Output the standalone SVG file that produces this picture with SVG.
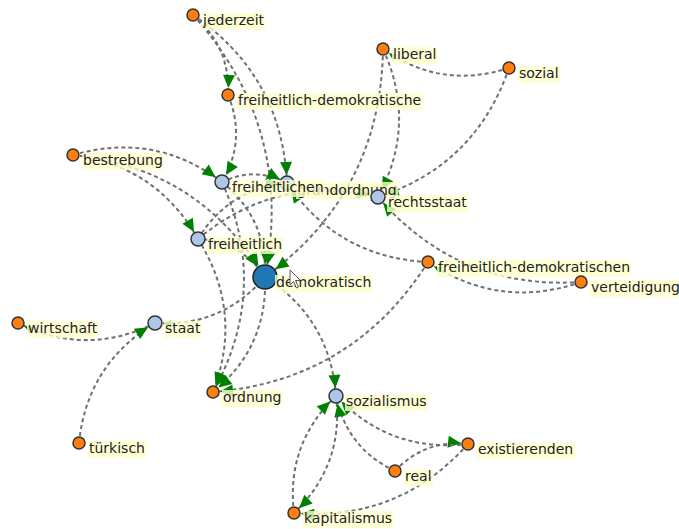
<svg xmlns="http://www.w3.org/2000/svg" width="679" height="529" viewBox="0 0 679 529">
<style>
.e{fill:none;stroke:#707070;stroke-width:2;stroke-dasharray:4 3}
.o{fill:#ff7f0e;stroke:#333;stroke-width:1.5}
.b{fill:#aec7e8;stroke:#333;stroke-width:1.5}
.d{fill:#1f77b4;stroke:#222;stroke-width:1.5}
.lb{fill:#ffffcc;fill-opacity:0.8}
text{font-family:"DejaVu Sans","Noto Sans",sans-serif;font-size:14px;fill:#222}
.ah{fill:#008000}
</style>
<defs>
<marker id="m6" viewBox="-30 -10 30 20" markerWidth="30" markerHeight="20" refX="0" refY="0" orient="auto" markerUnits="userSpaceOnUse"><path class="ah" d="M-7,0 L-20,-6 L-20,6 Z"/></marker>
<marker id="m7" viewBox="-30 -10 30 20" markerWidth="30" markerHeight="20" refX="0" refY="0" orient="auto" markerUnits="userSpaceOnUse"><path class="ah" d="M-8,0 L-21,-6 L-21,6 Z"/></marker>
<marker id="m13" viewBox="-30 -10 30 20" markerWidth="30" markerHeight="20" refX="0" refY="0" orient="auto" markerUnits="userSpaceOnUse"><path class="ah" d="M-13,0 L-26,-6 L-26,6 Z"/></marker>
<marker id="s6" viewBox="-30 -10 30 20" markerWidth="30" markerHeight="20" refX="0" refY="0" orient="auto" markerUnits="userSpaceOnUse"><path class="ah" d="M-7,0 L-15,-3.5 L-15,3.5 Z"/></marker>
<marker id="s7" viewBox="-30 -10 30 20" markerWidth="30" markerHeight="20" refX="0" refY="0" orient="auto" markerUnits="userSpaceOnUse"><path class="ah" d="M-8,0 L-16,-3.5 L-16,3.5 Z"/></marker>
</defs>
<rect width="679" height="529" fill="#ffffff"/>
<g id="edges">
<path class="e" d="M193,15 Q230.5,46.25 228,95" marker-end="url(#m6)"/>
<path class="e" d="M193,15 Q282,75.5 287,183" marker-end="url(#m7)"/>
<path class="e" d="M193,15 Q294.5,128 265,277" marker-end="url(#m13)"/>
<path class="e" d="M228,95 Q246.75,140 222,182" marker-end="url(#m7)"/>
<path class="e" d="M73,155 Q154.25,131.25 222,182" marker-end="url(#m7)"/>
<path class="e" d="M73,155 Q156.5,165.75 198,239" marker-end="url(#m7)"/>
<path class="e" d="M73,155 Q199.5,168 265,277" marker-end="url(#m13)"/>
<path class="e" d="M222,182 Q254.75,166.25 287,183" marker-end="url(#m7)"/>
<path class="e" d="M222,182 Q267.25,218.75 265,277" marker-end="url(#m13)"/>
<path class="e" d="M222,182 Q270,289.25 213,392" marker-end="url(#m6)"/>
<path class="e" d="M198,239 Q228.5,188.75 287,183" marker-end="url(#m7)"/>
<path class="e" d="M198,239 Q277.5,173 378,197" marker-end="url(#m7)"/>
<path class="e" d="M198,239 Q241,241.25 265,277" marker-end="url(#m13)"/>
<path class="e" d="M198,239 Q243.75,311.75 213,392" marker-end="url(#m6)"/>
<path class="e" d="M383,49 Q417.5,124.25 378,197" marker-end="url(#m7)"/>
<path class="e" d="M383,49 Q381,192.5 265,277" marker-end="url(#m13)"/>
<path class="e" d="M509,68 Q441.25,90 383,49" marker-end="url(#s6)"/>
<path class="e" d="M509,68 Q475.75,165.25 378,197" marker-end="url(#m7)"/>
<path class="e" d="M428,262 Q337.75,257.75 287,183" marker-end="url(#m7)"/>
<path class="e" d="M428,262 Q353,380.75 213,392" marker-end="url(#m6)"/>
<path class="e" d="M581,282 Q499.5,310.25 428,262" marker-end="url(#s6)"/>
<path class="e" d="M581,282 Q458.25,290.25 378,197" marker-end="url(#m7)"/>
<path class="e" d="M265,277 Q330.25,318.75 336,396" marker-end="url(#m7)"/>
<path class="e" d="M265,277 Q221.5,327.5 155,323" marker-end="url(#s7)"/>
<path class="e" d="M265,277 Q267.75,347.5 213,392" marker-end="url(#m6)"/>
<path class="e" d="M155,323 Q86.5,357.25 18,323" marker-end="url(#s6)"/>
<path class="e" d="M79,443 Q87,364 155,323" marker-end="url(#m7)"/>
<path class="e" d="M336,396 Q344.25,465 294,513" marker-end="url(#m6)"/>
<path class="e" d="M294,513 Q285.75,444 336,396" marker-end="url(#m7)"/>
<path class="e" d="M395,471 Q346.75,448.25 336,396" marker-end="url(#m7)"/>
<path class="e" d="M395,471 Q424.75,439.25 468,444" marker-end="url(#m6)"/>
<path class="e" d="M468,444 Q390,453 336,396" marker-end="url(#m7)"/>
<path class="e" d="M468,444 Q398.25,522 294,513" marker-end="url(#m6)"/>
</g>
<g id="n-grundordnung"><circle class="b" cx="287" cy="183" r="7"/><rect class="lb" x="296" y="182" width="102" height="17"/><text x="297" y="195">grundordnung</text></g>
<g id="n-jederzeit"><circle class="o" cx="193" cy="15" r="6"/><rect class="lb" x="202" y="13" width="63" height="17"/><text x="203" y="25">jederzeit</text></g>
<g id="n-freiheitlich-demokratische"><circle class="o" cx="228" cy="95" r="6"/><rect class="lb" x="237" y="93" width="186" height="17"/><text x="238" y="105">freiheitlich-demokratische</text></g>
<g id="n-liberal"><circle class="o" cx="383" cy="49" r="6"/><rect class="lb" x="392" y="47" width="46" height="17"/><text x="393" y="59">liberal</text></g>
<g id="n-sozial"><circle class="o" cx="509" cy="68" r="6"/><rect class="lb" x="518" y="66" width="42" height="17"/><text x="519" y="78">sozial</text></g>
<g id="n-bestrebung"><circle class="o" cx="73" cy="155" r="6"/><rect class="lb" x="82" y="153" width="82" height="17"/><text x="83" y="165">bestrebung</text></g>
<g id="n-freiheitlichen"><circle class="b" cx="222" cy="182" r="7"/><rect class="lb" x="231" y="180" width="94" height="17"/><text x="232" y="192">freiheitlichen</text></g>
<g id="n-rechtsstaat"><circle class="b" cx="378" cy="197" r="7"/><rect class="lb" x="387" y="195" width="81" height="17"/><text x="388" y="207">rechtsstaat</text></g>
<g id="n-freiheitlich"><circle class="b" cx="198" cy="239" r="7"/><rect class="lb" x="207" y="237" width="76" height="17"/><text x="208" y="249">freiheitlich</text></g>
<g id="n-demokratisch"><circle class="d" cx="265" cy="277" r="12"/><rect class="lb" x="275" y="275" width="97" height="17"/><text x="276" y="287">demokratisch</text></g>
<g id="n-freiheitlich-demokratischen"><circle class="o" cx="428" cy="262" r="6"/><rect class="lb" x="437" y="260" width="194" height="17"/><text x="438" y="272">freiheitlich-demokratischen</text></g>
<g id="n-verteidigung"><circle class="o" cx="581" cy="282" r="6"/><rect class="lb" x="590" y="280" width="91" height="17"/><text x="591" y="292">verteidigung</text></g>
<g id="n-wirtschaft"><circle class="o" cx="18" cy="323" r="6"/><rect class="lb" x="27" y="321" width="71" height="17"/><text x="28" y="333">wirtschaft</text></g>
<g id="n-staat"><circle class="b" cx="155" cy="323" r="7"/><rect class="lb" x="164" y="321" width="37" height="17"/><text x="165" y="333">staat</text></g>
<g id="n-tuerkisch"><circle class="o" cx="79" cy="443" r="6"/><rect class="lb" x="88" y="441" width="58" height="17"/><text x="89" y="453">türkisch</text></g>
<g id="n-ordnung"><circle class="o" cx="213" cy="392" r="6"/><rect class="lb" x="222" y="390" width="61" height="17"/><text x="223" y="402">ordnung</text></g>
<g id="n-sozialismus"><circle class="b" cx="336" cy="396" r="7"/><rect class="lb" x="345" y="394" width="83" height="17"/><text x="346" y="406">sozialismus</text></g>
<g id="n-existierenden"><circle class="o" cx="468" cy="444" r="6"/><rect class="lb" x="477" y="442" width="98" height="17"/><text x="478" y="454">existierenden</text></g>
<g id="n-real"><circle class="o" cx="395" cy="471" r="6"/><rect class="lb" x="404" y="469" width="29" height="17"/><text x="405" y="481">real</text></g>
<g id="n-kapitalismus"><circle class="o" cx="294" cy="513" r="6"/><rect class="lb" x="303" y="511" width="91" height="17"/><text x="304" y="523">kapitalismus</text></g>
<path d="M290,270 L290,285 L293.5,281.5 L296.5,288 L298.5,287 L295.5,280.5 L300.5,280.5 Z" fill="#ffffff" stroke="#333" stroke-width="0.8"/>
</svg>
